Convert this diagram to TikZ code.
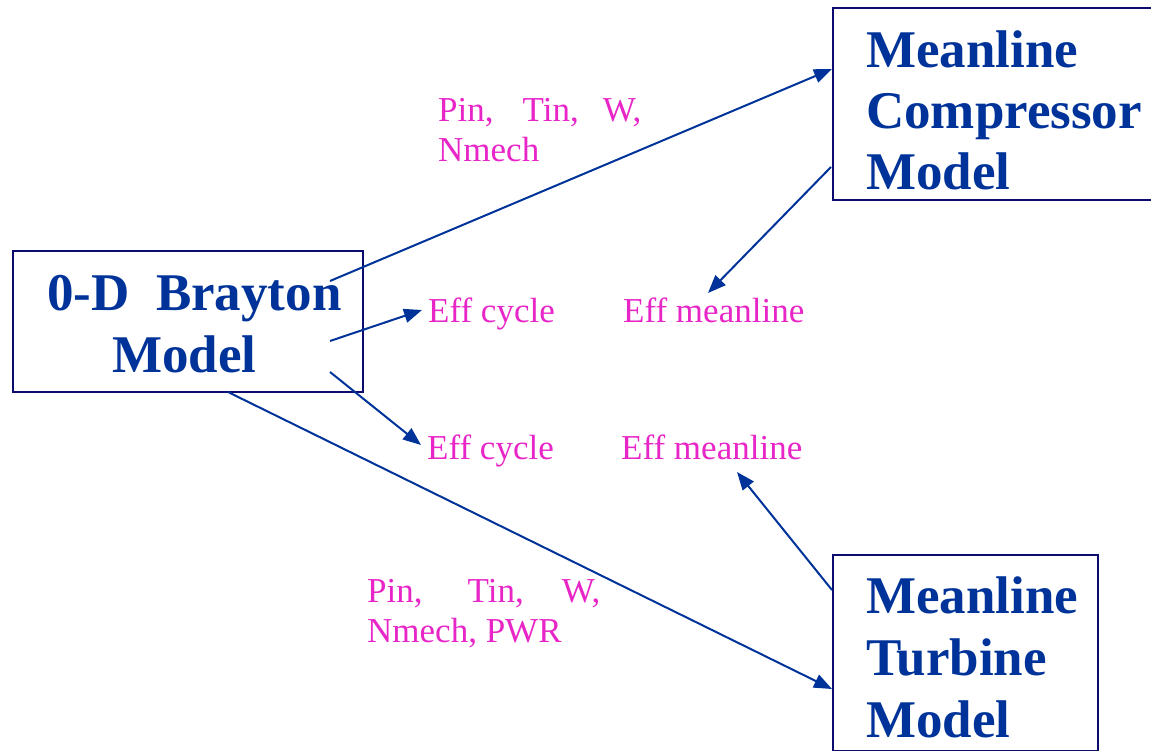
\documentclass[tikz,border=0pt]{standalone}
\usepackage{fontspec}
\setmainfont{Liberation Serif}
\usetikzlibrary{arrows.meta}
\definecolor{tblue}{RGB}{0,51,153}
\definecolor{bnavy}{RGB}{12,12,110}
\definecolor{mag}{RGB}{232,38,200}
\tikzset{
 boxline/.style={draw=bnavy, line width=2pt, inner sep=0pt, anchor=north west},
 big/.style={inner sep=0pt, anchor=base west, text=tblue, font=\fontsize{53}{61}\selectfont\bfseries},
 lbl/.style={inner sep=0pt, anchor=base west, text=mag, font=\fontsize{35}{40}\selectfont},
 conn/.style={draw=tblue, line width=2pt, -{Triangle[length=18pt,width=14pt]}}
}
\begin{document}
\begin{tikzpicture}[x=1pt,y=-1pt]
\useasboundingbox (0,0) rectangle (1151,751);
% boxes
\node[boxline, minimum width=350pt, minimum height=141pt] (bray) at (12,250) {};
\node[boxline, minimum width=340pt, minimum height=192pt] (comp) at (832,7) {};
\node[boxline, minimum width=265pt, minimum height=196pt] (turb) at (832,554) {};
% box texts
\node[big] (b1) at (47,311) {0-D\ \ Brayton};
\node[big] (b2) at (112,372) {Model};
\node[big] (c1) at (866,68) {Meanline};
\node[big] (c2) at (866,129) {Compressor};
\node[big] (c3) at (866,190) {Model};
\node[big] (t1) at (866,613) {Meanline};
\node[big] (t2) at (866,675) {Turbine};
\node[big] (t3) at (866,737) {Model};
% labels
\node[lbl] (p1) at (438,122) {Pin,\hspace{29pt}Tin,\hspace{24pt}W,};
\node[lbl] (p2) at (438,162) {Nmech};
\node[lbl] (q1) at (367,602) {Pin,\hspace{45pt}Tin,\hspace{38pt}W,};
\node[lbl] (q2) at (367,642) {Nmech, PWR};
\node[lbl] (ec1) at (428,323) {Eff cycle};
\node[lbl] (em1) at (623,323) {Eff meanline};
\node[lbl] (ec2) at (427,459) {Eff cycle};
\node[lbl] (em2) at (621,459) {Eff meanline};
% connector end points
\coordinate (s1) at (330,281);
\coordinate (e1) at (832,69);
\coordinate (s2) at (330,341);
\coordinate (e2) at (422,310);
\coordinate (s3) at (330,372);
\coordinate (e3) at (421,445);
\coordinate (s4) at (228,392);
\coordinate (e4) at (832,689);
\coordinate (s5) at (831,167);
\coordinate (e5) at (708,293);
\coordinate (s6) at (832,590);
\coordinate (e6) at (737,472);
% connectors
\draw[conn] (s1) -- (e1);
\draw[conn] (s2) -- (e2);
\draw[conn] (s3) -- (e3);
\draw[conn] (s4) -- (e4);
\draw[conn] (s5) -- (e5);
\draw[conn] (s6) -- (e6);
\end{tikzpicture}
\end{document}
